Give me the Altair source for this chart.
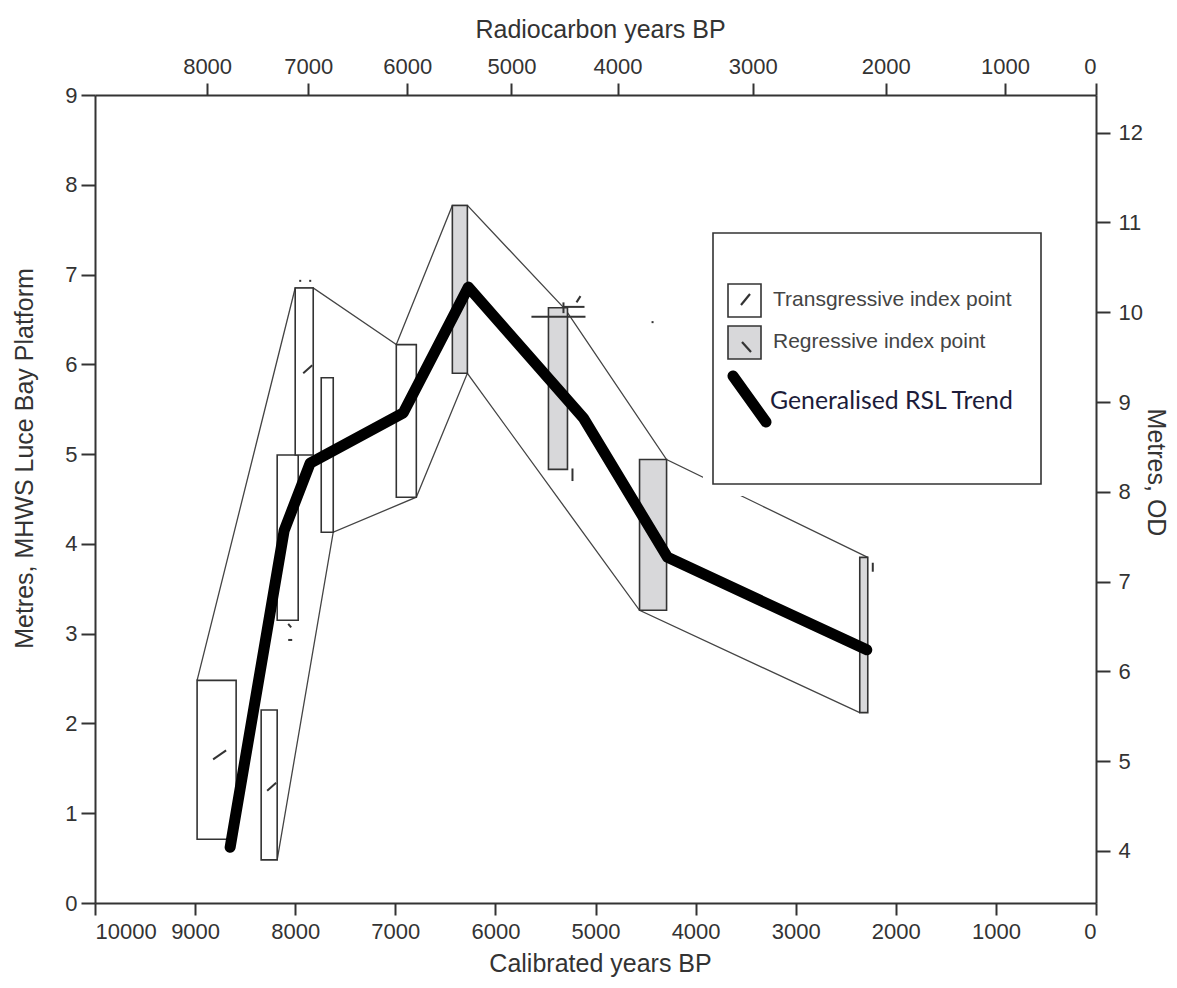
import altair as alt
import pandas as pd

# ---------------- data ----------------
# index-point boxes: calibrated age range (older, younger), MHWS height range
box_kind = ["T", "T", "T", "T", "T", "T", "R", "R", "R", "R"]
box_cal_old = [8980, 8340, 8180, 8000, 7740, 6990, 6430, 5470, 4560, 2360]
box_cal_young = [8590, 8180, 7970, 7820, 7620, 6790, 6280, 5280, 4290, 2280]
box_top = [2.48, 2.15, 4.99, 6.85, 5.85, 6.22, 7.77, 6.63, 4.94, 3.85]
box_bottom = [0.71, 0.48, 3.15, 4.99, 4.13, 4.52, 5.90, 4.83, 3.26, 2.12]

# envelope lines
upper_cal = [8980, 8000, 7820, 6990, 6430, 6280, 5300, 4290, 2280]
upper_m = [2.48, 6.85, 6.85, 6.22, 7.77, 7.77, 6.61, 4.94, 3.85]
lower_cal = [8180, 7620, 6790, 6280, 4560, 2360]
lower_m = [0.48, 4.13, 4.52, 5.90, 3.26, 2.12]

# generalised RSL trend
trend_cal = [8650, 8110, 7850, 6920, 6270, 5120, 4280, 2290]
trend_m = [0.62, 4.15, 4.90, 5.46, 6.86, 5.40, 3.85, 2.82]

# small symbols drawn inside / near the boxes (segments)
seg_cal1 = [8820, 8280, 7920, 5640, 5320, 5320, 5190, 5230, 2230, 8070, 8070, 7960, 7860, 4440]
seg_m1 = [1.60, 1.25, 5.90, 6.53, 6.64, 6.69, 6.69, 4.84, 3.79, 3.11, 2.93, 6.93, 6.93, 6.47]
seg_cal2 = [8690, 8190, 7830, 5100, 5110, 5320, 5150, 5230, 2230, 8040, 8030, 7940, 7840, 4420]
seg_m2 = [1.70, 1.34, 5.99, 6.53, 6.64, 6.57, 6.76, 4.70, 3.69, 3.07, 2.93, 6.93, 6.93, 6.47]

# axes
cal_ticks = list(range(0, 10001, 1000))
mhws_ticks = list(range(0, 10))
od_ticks = list(range(4, 13))
od_offset = 3.42
rc_labels = ["8000", "7000", "6000", "5000", "4000", "3000", "2000", "1000", "0"]
rc_cal_pos = [8880, 7870, 6880, 5840, 4780, 3430, 2100, 910, 0]

legend_labels = ["Transgressive index point", "Regressive index point"]
trend_label = "Generalised RSL Trend"

# ---------------- tables ----------------
boxes = pd.DataFrame({"kind": box_kind, "c0": box_cal_old, "c1": box_cal_young,
                      "top": box_top, "bottom": box_bottom})
env = pd.concat([
    pd.DataFrame({"cal": upper_cal, "m": upper_m, "env": "upper", "i": range(len(upper_cal))}),
    pd.DataFrame({"cal": lower_cal, "m": lower_m, "env": "lower", "i": range(len(lower_cal))}),
])
trend = pd.DataFrame({"cal": trend_cal, "m": trend_m, "i": range(len(trend_cal))})
segs = pd.DataFrame({"c1": seg_cal1, "m1": seg_m1, "c2": seg_cal2, "m2": seg_m2})

FONT = "Liberation Sans"
TXT = "#333333"
W, H = 1001, 808

xscale = alt.Scale(domain=[10000, 0], nice=False, zero=False)
yscale = alt.Scale(domain=[0, 9], nice=False, zero=False)

x_axis = alt.Axis(orient="bottom", values=cal_ticks, format="d", title="Calibrated years BP",
                  tickSize=12, labelPadding=6, titleX=505, titleY=68,
                  titleBaseline="alphabetic", titleAlign="center")
y_axis = alt.Axis(orient="left", values=mhws_ticks, format="d",
                  title="Metres, MHWS Luce Bay Platform", tickSize=14, labelPadding=4,
                  titleAngle=270, titleX=-63, titleY=363, titleAlign="center",
                  titleBaseline="alphabetic")

def X(field):
    return alt.X(f"{field}:Q", scale=xscale, axis=x_axis)

def Y(field):
    return alt.Y(f"{field}:Q", scale=yscale, axis=y_axis)

one = pd.DataFrame({"a": [0]})

envelope = alt.Chart(env).mark_line(color="#444444", strokeWidth=1.3).encode(
    x=X("cal"), y=Y("m"), detail="env:N", order="i:Q")

box_layer = alt.Chart(boxes).mark_rect(stroke="#333333", strokeWidth=1.6).encode(
    x=X("c0"), x2="c1", y=Y("top"), y2="bottom",
    fill=alt.Fill("kind:N", scale=alt.Scale(domain=["T", "R"], range=["#ffffff", "#d8d8da"]),
                  legend=None))

seg_layer = alt.Chart(segs).mark_rule(color="#333333", strokeWidth=2).encode(
    x=X("c1"), x2="c2", y=Y("m1"), y2="m2")

# legend (drawn by hand, positions in pixels of the plot area)
leg_bg = alt.Chart(one).mark_rect(fill="white").encode(
    x=alt.value(608), x2=alt.value(957), y=alt.value(127), y2=alt.value(401))
leg_box = alt.Chart(one).mark_rect(fill="white", stroke="#333333", strokeWidth=1.6).encode(
    x=alt.value(618), x2=alt.value(946), y=alt.value(138), y2=alt.value(389))
leg_t = alt.Chart(one).mark_rect(fill="white", stroke="#333333", strokeWidth=1.6).encode(
    x=alt.value(633), x2=alt.value(666), y=alt.value(189), y2=alt.value(222))
leg_r = alt.Chart(one).mark_rect(fill="#d8d8da", stroke="#333333", strokeWidth=1.6).encode(
    x=alt.value(633), x2=alt.value(666), y=alt.value(231), y2=alt.value(264))
leg_t_sl = alt.Chart(one).mark_rule(color="#333333", strokeWidth=2.2).encode(
    x=alt.value(646), x2=alt.value(655), y=alt.value(210), y2=alt.value(199))
leg_r_sl = alt.Chart(one).mark_rule(color="#333333", strokeWidth=2.2).encode(
    x=alt.value(647), x2=alt.value(656), y=alt.value(247), y2=alt.value(257))
leg_line = alt.Chart(one).mark_rule(color="black", strokeWidth=11, strokeCap="round").encode(
    x=alt.value(638), x2=alt.value(671), y=alt.value(281), y2=alt.value(327))
leg_txt = alt.Chart(pd.DataFrame({"t": legend_labels, "yy": [205, 247]})).mark_text(
    align="left", baseline="middle", font=FONT, fontSize=21, color="#444444").encode(
    x=alt.value(678), y=alt.Y("yy:Q", scale=None), text="t:N")
leg_txt2 = alt.Chart(pd.DataFrame({"t": [trend_label]})).mark_text(
    align="left", baseline="middle", font="Lato", fontSize=24.8, color="#1c1c3a").encode(
    x=alt.value(675), y=alt.value(307), text="t:N")

trend_layer = alt.Chart(trend).mark_line(color="black", strokeWidth=11,
                                         strokeCap="round", strokeJoin="round").encode(
    x=X("cal"), y=Y("m"), order="i:Q")

main = alt.layer(envelope, box_layer, seg_layer, leg_bg, leg_box, leg_t, leg_r,
                 leg_t_sl, leg_r_sl, leg_line, leg_txt, leg_txt2, trend_layer)

label_expr = "[" + ",".join(f"'{s}'" for s in rc_labels) + "][indexof([" + \
    ",".join(str(v) for v in rc_cal_pos) + "], datum.value)]"

axis_df = pd.DataFrame({"cal": [5000], "od": [8.0]})
axis_layer = alt.Chart(axis_df).mark_point(opacity=0).encode(
    x=alt.X("cal:Q", scale=xscale,
            axis=alt.Axis(orient="top", values=rc_cal_pos, labelExpr=label_expr,
                          title="Radiocarbon years BP", tickSize=12, labelPadding=5,
                          titleX=505, titleY=-58, titleBaseline="alphabetic",
                          titleAlign="center")),
    y=alt.Y("od:Q", scale=alt.Scale(domain=[od_offset, 9 + od_offset], nice=False, zero=False),
            axis=alt.Axis(orient="right", values=od_ticks, format="d", title="Metres, OD",
                          tickSize=14, labelPadding=8, titleAngle=90, titleX=51, titleY=377,
                          titleAlign="center", titleBaseline="alphabetic")))

chart = alt.layer(main, axis_layer).resolve_scale(y="independent").resolve_axis(
    x="independent", y="independent"
).properties(
    width=W, height=H,
    autosize=alt.AutoSizeParams(type="none"),
    padding={"left": 87, "top": 87, "right": 73, "bottom": 74},
).configure_view(stroke=None).configure_axis(
    grid=False, domainColor=TXT, domainWidth=2, tickColor=TXT, tickWidth=2,
    labelFont=FONT, labelFontSize=22, labelColor=TXT,
    titleFont=FONT, titleFontSize=25, titleFontWeight="normal", titleColor=TXT,
)

chart.save("out.html", embed_options={"renderer": "svg", "actions": False})
